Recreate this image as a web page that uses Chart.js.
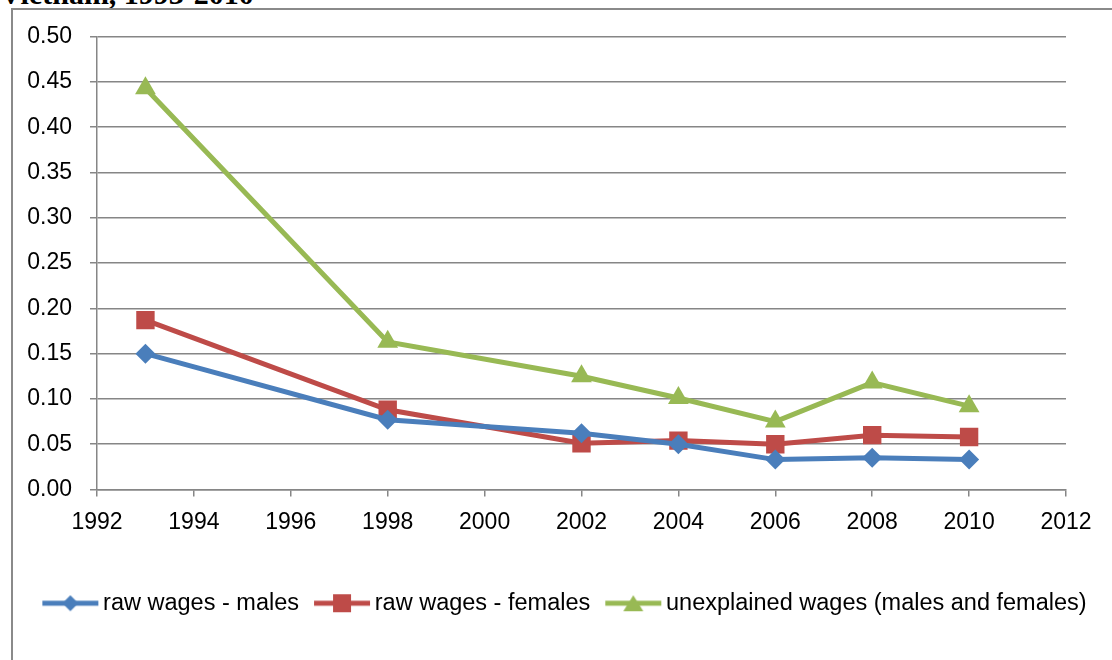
<!DOCTYPE html>
<html>
<head>
<meta charset="utf-8">
<script src="https://cdn.jsdelivr.net/npm/chart.js@4.4.1/dist/chart.umd.min.js"></script>
<style>
  html, body { margin: 0; padding: 0; background: #fff; overflow: hidden; width: 1112px; height: 660px; }
  #title { position: absolute; left: 0px; top: -21px; font-family: "Liberation Serif", "Times New Roman", serif; font-weight: bold; font-size: 30px; line-height: 30px; color: #000; white-space: nowrap; }
  #box { position: absolute; left: 11px; top: 8px; width: 1140px; height: 700px; border: 2px solid #8a8a8a; box-sizing: border-box; }
  #wrap { position: absolute; left: 13px; top: 10px; width: 1110px; height: 660px; }
</style>
</head>
<body>
<div id="title">Vietnam, 1993-2010</div>
<div id="box"></div>
<div id="wrap"><canvas id="c" width="1110" height="660"></canvas></div>
<script>
const years = [1993, 1998, 2002, 2004, 2006, 2008, 2010];
const rawMales = [0.150, 0.077, 0.062, 0.050, 0.033, 0.035, 0.033];
const rawFemales = [0.187, 0.088, 0.051, 0.054, 0.050, 0.060, 0.058];
const unexplained = [0.443, 0.163, 0.125, 0.101, 0.075, 0.118, 0.092];
const seriesLabels = ["raw wages - males", "raw wages - females", "unexplained wages (males and females)"];
const yTicks = [0, 0.05, 0.10, 0.15, 0.20, 0.25, 0.30, 0.35, 0.40, 0.45, 0.50];
const xTicks = [1992, 1994, 1996, 1998, 2000, 2002, 2004, 2006, 2008, 2010, 2012];

const colors = ["#4A7EBB", "#BE4B48", "#98B954"];
const styles = ["rectRot", "rect", "triangle"];
const radii = [10, 13, 12];

function legendIcon(color, shape) {
  const cv = document.createElement('canvas');
  cv.width = 58; cv.height = 22;
  const g = cv.getContext('2d');
  g.strokeStyle = color; g.fillStyle = color; g.lineWidth = 5;
  g.beginPath(); g.moveTo(1, 11); g.lineTo(57, 11); g.stroke();
  g.beginPath();
  if (shape === 'rectRot') {
    g.moveTo(29, 3); g.lineTo(37, 11); g.lineTo(29, 19); g.lineTo(21, 11); g.closePath();
  } else if (shape === 'rect') {
    g.rect(20, 2, 18, 18);
  } else {
    g.moveTo(29, 3); g.lineTo(39, 19); g.lineTo(19, 19); g.closePath();
  }
  g.fill();
  return cv;
}

const dataSets = [rawMales, rawFemales, unexplained].map((arr, i) => ({
  label: seriesLabels[i],
  data: years.map((y, j) => ({ x: y, y: arr[j] })),
  borderColor: colors[i],
  backgroundColor: colors[i],
  borderWidth: 5,
  pointStyle: styles[i],
  pointRadius: radii[i],
  pointHoverRadius: radii[i],
  pointBorderWidth: 0,
  tension: 0,
  yAxisID: 'y',
  legendIcon: legendIcon(colors[i], styles[i])
}));

const xTickFont = { family: "'Liberation Sans', Arial, sans-serif", size: 23 };
const yTickFont = { family: "'Liberation Sans', Arial, sans-serif", size: 23, lineHeight: 0.75 };

new Chart(document.getElementById('c'), {
  type: 'line',
  data: { datasets: dataSets },
  options: {
    responsive: false,
    animation: false,
    layout: { padding: { left: 0, right: 0, top: 21, bottom: 45 } },
    scales: {
      x: {
        type: 'linear',
        min: 1992, max: 2012,
        afterBuildTicks: s => { s.ticks = xTicks.map(v => ({ value: v })); },
        afterFit: s => { s.height = 80; },
        ticks: { font: xTickFont, color: '#000', padding: 12, callback: v => String(v), maxRotation: 0 },
        grid: { drawOnChartArea: false, color: '#868686', lineWidth: 1.5, tickLength: 7 },
        border: { color: '#868686', width: 1.5 }
      },
      y: {
        min: 0, max: 0.5,
        afterBuildTicks: s => { s.ticks = yTicks.map(v => ({ value: v })); },
        afterFit: s => { s.width = 84; },
        ticks: { font: yTickFont, color: '#000', padding: 18, callback: v => v.toFixed(2) },
        grid: { color: '#868686', lineWidth: 1.5, tickLength: 7 },
        border: { color: '#868686', width: 1.5 }
      },
      spacer: {
        type: 'linear',
        position: 'right',
        display: true,
        min: 0, max: 1,
        afterFit: s => { s.width = 57; },
        ticks: { display: false },
        grid: { display: false, drawTicks: false },
        border: { display: false }
      }
    },
    plugins: {
      tooltip: { enabled: false },
      legend: {
        position: 'bottom',
        labels: {
          font: { family: "'Liberation Sans', Arial, sans-serif", size: 23.5 },
          color: '#000',
          usePointStyle: true,
          pointStyleWidth: 42,
          boxHeight: 22,
          padding: 22,
          generateLabels: chart => chart.data.datasets.map((d, i) => ({
            text: d.label,
            pointStyle: d.legendIcon,
            fillStyle: d.borderColor,
            strokeStyle: d.borderColor,
            lineWidth: 0,
            datasetIndex: i
          }))
        }
      }
    }
  }
});
</script>
</body>
</html>
